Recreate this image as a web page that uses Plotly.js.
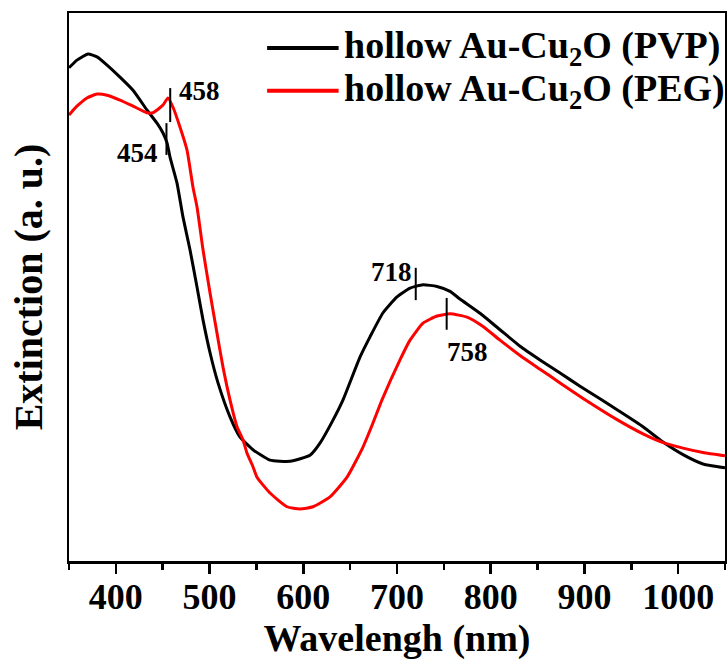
<!DOCTYPE html>
<html>
<head>
<meta charset="utf-8">
<script src="https://cdn.plot.ly/plotly-3.0.1.min.js"></script>
<style>html,body{margin:0;padding:0;background:#fff;}#chart{width:727px;height:671px;}</style>
</head>
<body>
<div id="chart"></div>
<script>
// Wavelength (nm) and extinction (a.u.)
const pvpWavelength = [350,358.5,370.3,379.9,390.6,404.4,418.3,433.2,443.9,450.3,454.6,457.8,465.2,471.6,479.1,486.6,493.0,500.5,509.0,521.8,532.5,543.1,546.3,564.5,585.8,607.2,617.8,631.7,642.4,660.5,671.2,685.1,700.0,713.9,727.8,742.7,756.6,767.2,788.6,809.9,831.3,852.6,874.0,895.3,916.6,934.8,962.5,983.9,1005.2,1026.5,1050];
const pvpExtinction = [0.900,0.914,0.925,0.920,0.905,0.883,0.859,0.823,0.799,0.781,0.763,0.737,0.690,0.628,0.568,0.500,0.440,0.380,0.325,0.263,0.226,0.208,0.203,0.184,0.182,0.193,0.215,0.257,0.294,0.372,0.409,0.453,0.482,0.498,0.504,0.501,0.492,0.478,0.452,0.422,0.392,0.367,0.343,0.319,0.296,0.276,0.245,0.217,0.194,0.177,0.170];

const pegWavelength = [350,358.5,369.2,379.9,390.6,404.4,418.3,433.2,439.6,450.3,455.6,461.0,468.4,475.9,482.3,486.6,493.0,500.5,507.9,514.3,521.8,529.3,535.7,539.9,546.3,550.6,564.5,582.6,596.5,610.4,628.5,646.7,663.7,674.4,684.0,703.2,713.9,727.8,742.7,756.6,774.7,791.8,809.9,831.3,852.6,874.0,902.8,934.8,962.5,983.9,1005.2,1026.5,1050];
const pegExtinction = [0.814,0.830,0.845,0.852,0.850,0.841,0.830,0.818,0.818,0.832,0.845,0.828,0.792,0.750,0.682,0.646,0.568,0.489,0.416,0.354,0.294,0.245,0.221,0.197,0.172,0.153,0.124,0.099,0.095,0.099,0.117,0.153,0.208,0.252,0.294,0.367,0.403,0.434,0.447,0.451,0.445,0.428,0.403,0.375,0.350,0.325,0.292,0.258,0.232,0.216,0.206,0.198,0.192];

const seriesNames = ['hollow Au-Cu<sub>2</sub>O (PVP)', 'hollow Au-Cu<sub>2</sub>O (PEG)'];
const seriesColors = ['#000000', '#ff0000'];

// Peak markers: wavelength position, label text, marker bottom/top, label position
const peakX      = [454, 458, 720, 753];
const peakLabels = ['454', '458', '718', '758'];
const peakLow    = [0.741, 0.801, 0.476, 0.422];
const peakHigh   = [0.799, 0.863, 0.535, 0.480];
const labelX     = [423, 489, 694, 775];
const labelY     = [0.745, 0.857, 0.527, 0.381];

const xTickVals = [400, 500, 600, 700, 800, 900, 1000];

const font = 'Liberation Serif, Times New Roman, serif';

const traces = [
  {x: pvpWavelength, y: pvpExtinction, mode: 'lines', line: {color: seriesColors[0], width: 3, shape: 'spline', smoothing: 0.5}, name: seriesNames[0], showlegend: false},
  {x: pegWavelength, y: pegExtinction, mode: 'lines', line: {color: seriesColors[1], width: 3, shape: 'spline', smoothing: 0.5}, name: seriesNames[1], showlegend: false}
];

const shapes = peakX.map((px, i) => ({type: 'line', xref: 'x', yref: 'y', x0: px, x1: px, y0: peakLow[i], y1: peakHigh[i], line: {color: '#000', width: 2}}));
const annotations = peakLabels.map((t, i) => ({x: labelX[i], y: labelY[i], xref: 'x', yref: 'y', text: '<b>' + t + '</b>', showarrow: false, font: {family: font, size: 27, color: '#000'}}));

// manual legend
const legendY = [0.936, 0.858];
seriesNames.forEach((n, i) => {
  shapes.push({type: 'line', xref: 'paper', yref: 'paper', x0: 0.302, x1: 0.411, y0: legendY[i], y1: legendY[i], line: {color: seriesColors[i], width: 4}});
  annotations.push({x: 0.416, y: legendY[i], xref: 'paper', yref: 'paper', xanchor: 'left', yanchor: 'middle', text: '<b>' + n + '</b>', showarrow: false, font: {family: font, size: 38, color: '#000'}});
});

const layout = {
  width: 727, height: 671,
  margin: {l: 69, r: 2, t: 13, b: 110},
  paper_bgcolor: '#fff', plot_bgcolor: '#fff',
  showlegend: false,
  xaxis: {
    range: [350, 1050], tickvals: xTickVals, ticktext: xTickVals.map(String),
    ticks: 'outside', ticklen: 10, tickwidth: 2.5, tickcolor: '#000',
    ticklabelstandoff: -8,
    minor: {dtick: 50, tick0: 350, ticks: 'outside', ticklen: 6, tickwidth: 2.5, tickcolor: '#000'},
    showline: true, linewidth: 2.5, linecolor: '#000', mirror: true,
    showgrid: false, zeroline: false,
    tickfont: {family: font, size: 36, color: '#000', weight: 'bold'},
    title: {text: '<b>Wavelengh (nm)</b>', font: {family: font, size: 38, color: '#000'}, standoff: 8}
  },
  yaxis: {
    range: [0, 1], showticklabels: false, ticks: '',
    showline: true, linewidth: 2.5, linecolor: '#000', mirror: true,
    showgrid: false, zeroline: false,
    title: {text: '<b>Extinction (a. u.)</b>', font: {family: font, size: 40, color: '#000'}, standoff: 12}
  },
  shapes: shapes,
  annotations: annotations
};

Plotly.newPlot('chart', traces, layout, {staticPlot: true, displayModeBar: false});
</script>
</body>
</html>
